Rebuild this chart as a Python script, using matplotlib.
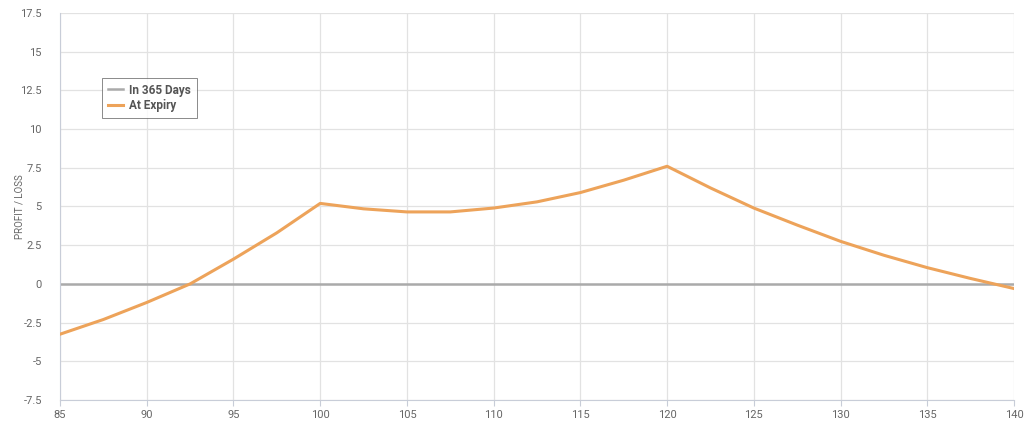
import matplotlib.pyplot as plt
import numpy as np

# price points and P/L
prices = [85, 87.5, 90, 92.5, 95, 97.5, 100, 102.5, 105, 107.5, 110, 112.5,
          115, 117.5, 120, 122.5, 125, 127.5, 130, 132.5, 135, 137.5, 140]
at_expiry = [-3.25, -2.3, -1.2, 0.0, 1.6, 3.3, 5.2, 4.85, 4.65, 4.65, 4.9, 5.3,
             5.9, 6.7, 7.6, 6.2, 4.9, 3.8, 2.75, 1.85, 1.05, 0.35, -0.3]
in_365 = [0.0] * len(prices)

xticks = [85, 90, 95, 100, 105, 110, 115, 120, 125, 130, 135, 140]
yticks = [-7.5, -5, -2.5, 0, 2.5, 5, 7.5, 10, 12.5, 15, 17.5]
ylabels = ["-7.5", "-5", "-2.5", "0", "2.5", "5", "7.5", "10", "12.5", "15", "17.5"]

plt.rcParams['font.family'] = ['Roboto', 'DejaVu Sans']

fig = plt.figure(figsize=(10.24, 4.28), dpi=100)
ax = fig.add_axes([60/1024, 28/428, 954/1024, 387/428])

ax.plot(prices, in_365, color="#aaaaaa", lw=1.8, label="In 365 Days", zorder=2)
ax.plot(prices, at_expiry, color="#eda35a", lw=2.2, label="At Expiry", zorder=3)

ax.set_xlim(85, 140)
ax.set_ylim(-7.5, 17.5)
ax.set_xticks(xticks)
ax.set_yticks(yticks)
ax.set_yticklabels(ylabels)
ax.grid(True, color="#e2e2e2", lw=0.9)
ax.set_axisbelow(True)

for s in ["top", "right"]:
    ax.spines[s].set_visible(False)
for s in ["left", "bottom"]:
    ax.spines[s].set_color("#c8cdd8")
ax.tick_params(colors="#c8cdd8", labelcolor="#666666", labelsize=8, length=4)
ax.tick_params(axis="y", length=0, pad=13)

ax.set_ylabel("PROFIT / LOSS", color="#666666", fontsize=7)
ax.yaxis.set_label_coords(-0.037, 0.5)

leg = ax.legend(loc="upper left", bbox_to_anchor=(0.038, 0.848), frameon=True,
                fancybox=False, fontsize=8.5, handlelength=1.3, handletextpad=0.5,
                borderpad=0.5, labelspacing=0.2)
leg.get_frame().set_edgecolor("#555555")
leg.get_frame().set_linewidth(0.6)
for t in leg.get_texts():
    t.set_color("#555555")
    t.set_fontweight("bold")

fig.savefig("out.png", dpi=100)
